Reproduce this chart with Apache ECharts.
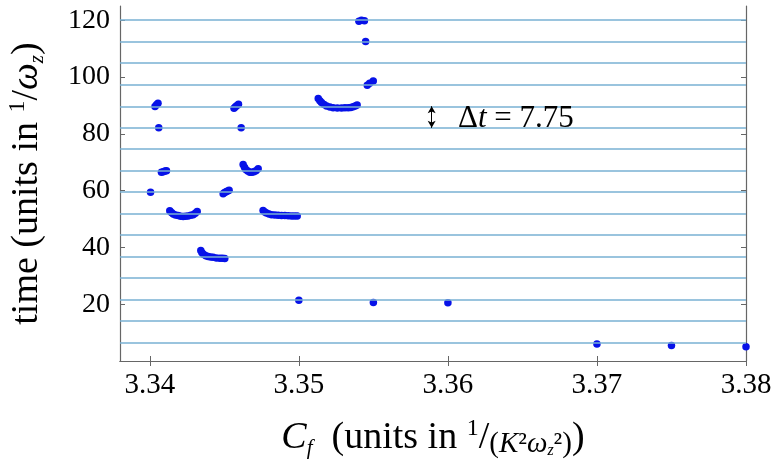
<!DOCTYPE html>
<html>
<head>
<meta charset="utf-8">
<script src="https://cdn.jsdelivr.net/npm/echarts@6/dist/echarts.min.js"></script>
<style>html,body{margin:0;padding:0;background:#fff;}#c{width:776px;height:463px;}</style>
</head>
<body>
<div id="c"></div>
<script>
// Tick labels
var xTicks = [3.34, 3.35, 3.36, 3.37, 3.38];
var yTicks = [20, 40, 60, 80, 100, 120];
// Horizontal reference lines (spaced by Δt)
var refLines = [6.5, 14.1, 21.6, 29.2, 36.8, 44.4, 52.0, 59.5, 67.1, 74.6, 82.1, 89.7, 97.3, 104.9, 112.5, 120.1];
// Data points [C_f, time]
var branchA = [[3.34035, 89.6], [3.34045, 90.2], [3.34055, 90.8], [3.34060, 82.1],
  [3.34078, 66.5], [3.34090, 66.6], [3.34102, 66.9], [3.34112, 67.0], [3.34005, 59.4]];
var branchB = [[3.34134, 52.9], [3.34145, 52.3], [3.34157, 51.8], [3.34172, 51.4], [3.34190, 51.2],
  [3.34207, 51.0], [3.34224, 50.9], [3.34240, 51.0], [3.34257, 51.1], [3.34275, 51.3],
  [3.34291, 51.5], [3.34305, 52.0], [3.34318, 52.6]];
var branchC = [[3.34342, 38.9], [3.34350, 38.1], [3.34362, 37.5], [3.34376, 37.1], [3.34391, 36.8],
  [3.34408, 36.6], [3.34425, 36.5], [3.34447, 36.3], [3.34470, 36.2], [3.34487, 36.15], [3.34503, 36.1]];
var branchD = [[3.34492, 58.9], [3.34502, 59.3], [3.34512, 59.6], [3.34522, 59.9], [3.34532, 60.1],
  [3.34565, 89.0], [3.34575, 89.5], [3.34585, 90.0], [3.34595, 90.4], [3.34613, 82.1],
  [3.34626, 69.2], [3.34635, 68.2], [3.34644, 67.4], [3.34657, 66.9], [3.34671, 66.5],
  [3.34685, 66.5], [3.34698, 66.6], [3.34712, 67.0], [3.34727, 67.7]];
var branchE = [[3.34760, 53.0], [3.34771, 52.5], [3.34783, 52.1], [3.34800, 51.8], [3.34817, 51.5],
  [3.34839, 51.4], [3.34861, 51.3], [3.34884, 51.25], [3.34906, 51.2], [3.34929, 51.15],
  [3.34951, 51.1], [3.34970, 51.1], [3.34989, 51.1], [3.35000, 21.4]];
var branchF = [[3.35130, 92.4], [3.35141, 91.6], [3.35152, 91.0], [3.35169, 90.3], [3.35186, 89.8],
  [3.35208, 89.4], [3.35230, 89.2], [3.35258, 89.1], [3.35286, 89.1], [3.35309, 89.15],
  [3.35331, 89.2], [3.35348, 89.3], [3.35364, 89.5], [3.35378, 89.8], [3.35391, 90.1],
  [3.35403, 119.6], [3.35420, 120.0], [3.35440, 119.8], [3.35448, 112.5],
  [3.35459, 97.1], [3.35475, 97.8], [3.35499, 98.6]];
var branchG = [[3.35500, 20.6], [3.36000, 20.5], [3.37000, 6.0], [3.37500, 5.5], [3.38000, 5.05]];
// Δt annotation
var dtArrow = {x: 3.35891, from: 89.7, to: 82.1};

var allPoints = [].concat(branchA, branchB, branchC, branchD, branchE, branchF, branchG);

var serif = 'Liberation Serif';
var chart = echarts.init(document.getElementById('c'), null, {renderer: 'canvas'});
var richName = {
  n: {fontFamily: serif, fontSize: 38, lineHeight: 42, color: '#000'},
  i: {fontFamily: serif, fontSize: 38, fontStyle: 'italic', lineHeight: 42, color: '#000'},
  sup: {fontFamily: serif, fontSize: 24, verticalAlign: 'top', lineHeight: 42, color: '#000'},
  sub: {fontFamily: serif, fontSize: 21, fontStyle: 'italic', verticalAlign: 'bottom', lineHeight: 36, color: '#000'},
  sm: {fontFamily: serif, fontSize: 29, lineHeight: 40, verticalAlign: 'bottom', color: '#000'},
  smi: {fontFamily: serif, fontSize: 29, fontStyle: 'italic', lineHeight: 40, verticalAlign: 'bottom', color: '#000'},
  ssub: {fontFamily: serif, fontSize: 16, fontStyle: 'italic', verticalAlign: 'bottom', lineHeight: 34, color: '#000'}
};
var axisLineStyle = {color: '#666', width: 1.2};
var tickStyle = {inside: true, length: 5, lineStyle: {color: '#666', width: 1}};

var option = {
  animation: false,
  backgroundColor: '#fff',
  grid: {left: 120, right: 30, top: 6, bottom: 102, containLabel: false, outerBoundsMode: 'none'},
  xAxis: [{
    type: 'value', min: 3.338, max: 3.38, position: 'bottom',
    axisLine: {show: true, lineStyle: axisLineStyle},
    axisTick: Object.assign({customValues: xTicks}, tickStyle),
    axisLabel: {customValues: xTicks, fontFamily: serif, fontSize: 29, color: '#000', margin: 10,
      formatter: function (v) { return v.toFixed(2); }},
    splitLine: {show: false},
    name: '{i|C}{sub|f}{n|  (units in }{sup|1}{n|/}{sm|(}{smi|K}{sm|²}{smi|ω}{ssub|z}{sm|²)}{n|)}',
    nameLocation: 'middle', nameGap: 56,
    nameTextStyle: {rich: richName}
  }, {
    type: 'value', min: 3.338, max: 3.38, position: 'top',
    axisLine: {show: true, lineStyle: axisLineStyle},
    axisTick: Object.assign({customValues: xTicks}, tickStyle),
    axisLabel: {show: false}, splitLine: {show: false}
  }],
  yAxis: [{
    type: 'value', min: 0, max: 125, position: 'left',
    axisLine: {show: true, lineStyle: axisLineStyle},
    axisTick: Object.assign({customValues: yTicks}, tickStyle),
    axisLabel: {customValues: yTicks, fontFamily: serif, fontSize: 28, color: '#000', margin: 10},
    splitLine: {show: false},
    name: '{n|time (units in }{sup|1}{n|/}{i|ω}{sub|z}{n|)}',
    nameLocation: 'middle', nameGap: 72, nameRotate: 90,
    nameTextStyle: {rich: richName}
  }, {
    type: 'value', min: 0, max: 125, position: 'right',
    axisLine: {show: true, lineStyle: axisLineStyle},
    axisTick: Object.assign({customValues: yTicks}, tickStyle),
    axisLabel: {show: false}, splitLine: {show: false}
  }],
  series: [{
    type: 'scatter', data: [], z: 1, silent: true,
    markLine: {
      silent: true, symbol: 'none', animation: false,
      label: {show: false},
      lineStyle: {color: '#78b0d3', width: 1.5, type: 'solid'},
      data: refLines.map(function (v) { return {yAxis: v}; })
    }
  }, {
    type: 'scatter', data: [], z: 4, silent: true,
    markLine: {
      silent: true, symbol: ['arrow', 'arrow'], symbolSize: [6, 7], animation: false,
      label: {show: false},
      lineStyle: {color: '#000', width: 1, type: 'solid'},
      data: [[{coord: [dtArrow.x, dtArrow.from]}, {coord: [dtArrow.x, dtArrow.to]}]]
    }
  }, {
    type: 'scatter', z: 3,
    data: allPoints,
    symbol: 'circle', symbolSize: 7.5,
    itemStyle: {color: '#0712e8', opacity: 1}
  }],
  graphic: [{
    type: 'text', left: 458, top: 103, z: 10,
    style: {
      text: '{n|Δ}{i|t}{n| = 7.75}',
      rich: {
        n: {fontFamily: serif, fontSize: 31, fill: '#000', lineHeight: 34},
        i: {fontFamily: serif, fontSize: 31, fontStyle: 'italic', fill: '#000', lineHeight: 34}
      }
    }
  }]
};
chart.setOption(option);
</script>
</body>
</html>
